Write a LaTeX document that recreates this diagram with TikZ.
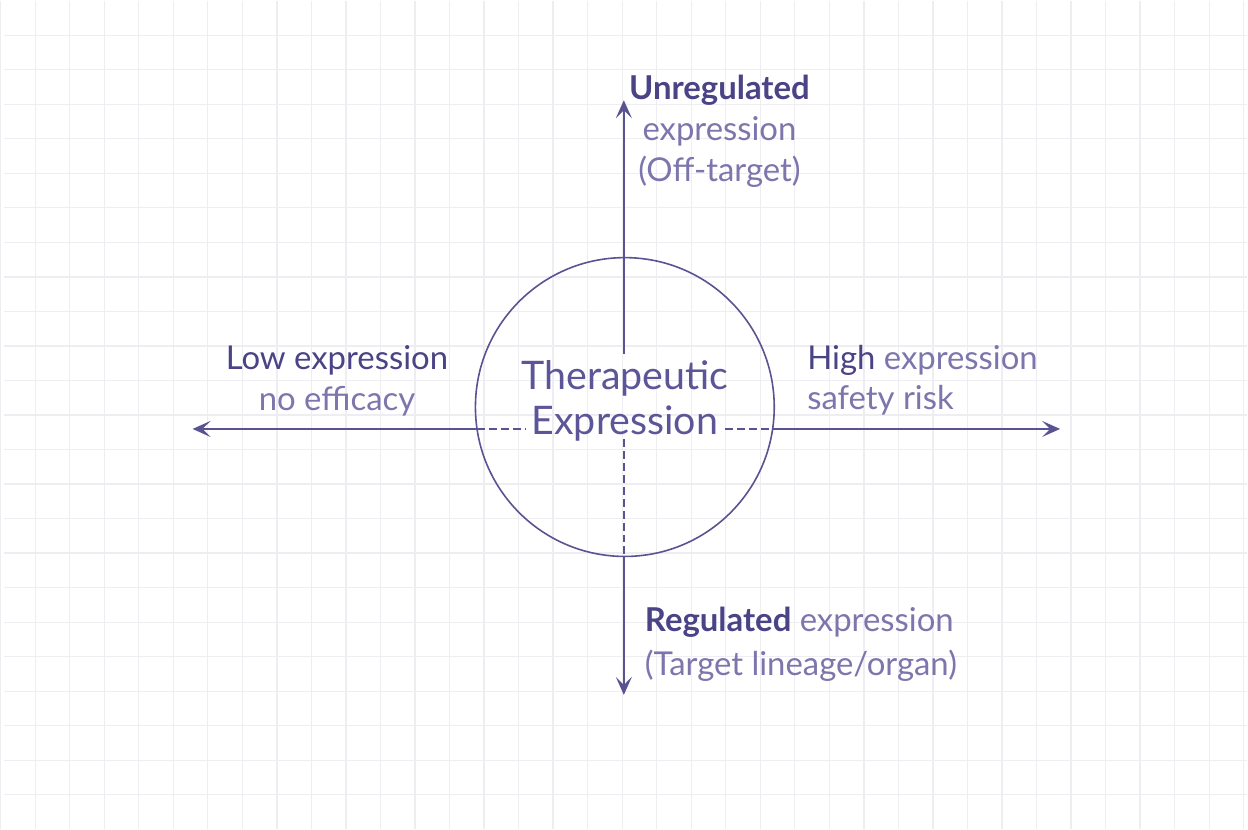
\documentclass[tikz,border=0pt]{standalone}
\usepackage{fontspec}
\setmainfont{Lato}
\usetikzlibrary{arrows.meta,positioning}
\definecolor{inkdark}{HTML}{4A4386}
\definecolor{inkmid}{HTML}{5C5597}
\definecolor{inklight}{HTML}{7D76AD}
\definecolor{inkaxis}{HTML}{5A5392}
\definecolor{gridgray}{HTML}{EDEDF2}
\tikzset{
  axisline/.style={inkaxis, line width=2.6pt},
  axisdash/.style={inkaxis, line width=2.2pt, dash pattern=on 8pt off 4pt},
  axistip/.style={-{Stealth[length=18pt,width=16pt,inset=8pt]}},
  lbl/.style={font=\fontsize{33}{41}\selectfont, text=inklight, inner sep=0pt},
}
\begin{document}
\begin{tikzpicture}[x=1pt,y=-1pt]
        % Draw paper grid
        \fill[white] (0,0) rectangle (1248,832);
        \foreach \k in {0,...,36}{
            \draw[gridgray, line width=1.3pt] ({-3.667+\k*34.667},0) -- ({-3.667+\k*34.667},832);
        }
        \foreach \k in {1,...,23}{
            \draw[gridgray, line width=1.3pt] (0,{\k*34.667}) -- (1248,{\k*34.667});
        }
        \useasboundingbox (0,0) rectangle (1248,832);
        % Draw circle and centre text (Nodes)
        \node[circle, draw=inkaxis, line width=1.6pt, minimum size=300pt, inner sep=0pt] (ring) at (623,408) {};
        \node[font=\fontsize{39.5}{45}\selectfont, text=inkmid, align=center, inner sep=0pt] (core) at (623,402) {Therapeutic\\Expression};
        % Axis ends
        \coordinate (tipN) at (622,100);
        \coordinate (tipS) at (622,697);
        \coordinate (tipW) at (189,430);
        \coordinate (tipE) at (1060,430);
        \coordinate (rimN) at (622,258);
        \coordinate (rimS) at (622,558);
        \coordinate (rimW) at (474.6,430);
        \coordinate (rimE) at (771.4,430);
        \coordinate (coreN) at (622,355);
        \coordinate (coreS) at (622,440);
        \coordinate (coreW) at (524,430);
        \coordinate (coreE) at (724,430);
        % Draw axes (Edges)
        \draw[axisline, axistip] (rimW) -- (tipW);
        \draw[axisline, axistip] (rimE) -- (tipE);
        \draw[axisline, axistip] (rimN) -- (tipN);
        \draw[axisline, axistip] (rimS) -- (tipS);
        \draw[axisline] (rimN) -- (coreN);
        \draw[axisdash] (rimW) -- (coreW);
        \draw[axisdash] (coreE) -- (rimE);
        \draw[axisdash] (coreS) -- (rimS);
        % Axis labels
        \node[lbl, align=center] (offtarget) at (718,131) {{\bfseries\color{inkdark}Unregulated}\\expression\\(Off-target)};
        \node[lbl, align=center] (lowlbl) at (334,382) {{\color{inkdark}Low expression}\\no efficacy};
        \node[lbl, align=left, anchor=west] (highlbl) at (806,381) {{\color{inkdark}High} expression\\safety risk};
        \node[lbl, align=left, anchor=west, font=\fontsize{33}{44}\selectfont] (targetlbl) at (643,646) {{\bfseries\color{inkdark}Regulated} expression\\(Target lineage/organ)};
\end{tikzpicture}
\end{document}
